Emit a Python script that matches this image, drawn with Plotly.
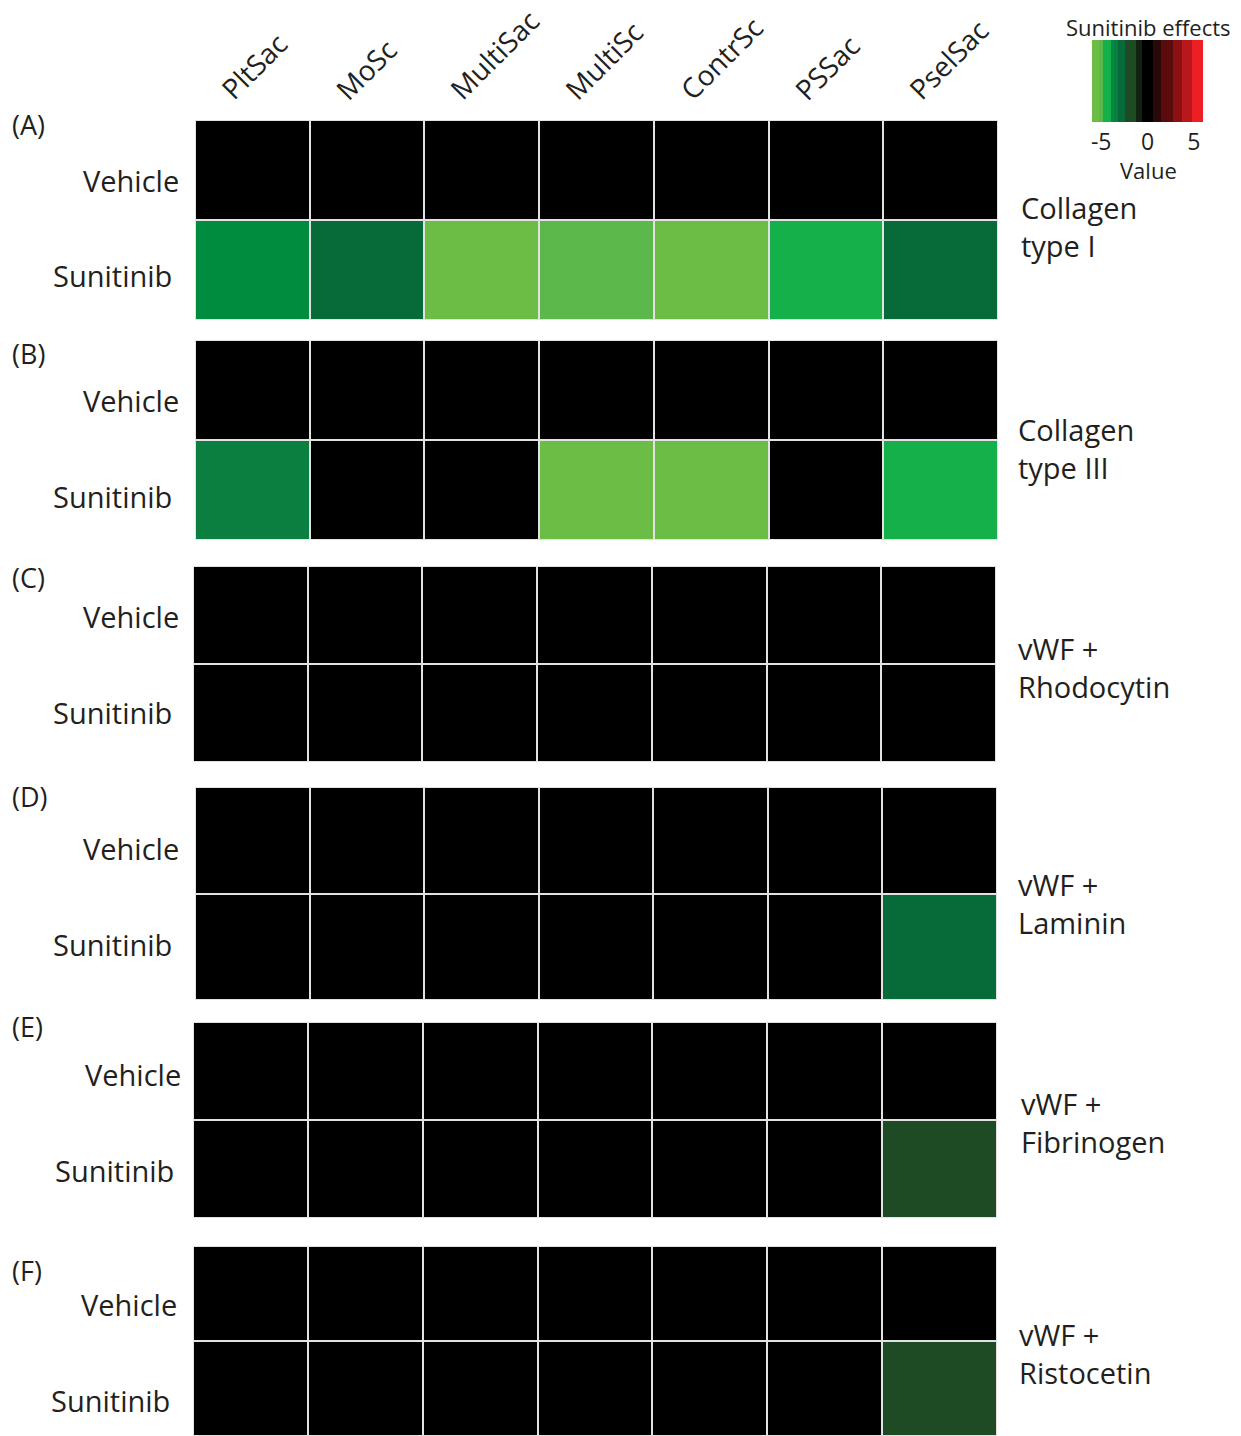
import plotly.graph_objects as go

# ---------------- data ----------------
columns = ["PltSac", "MoSc", "MultiSac", "MultiSc", "ContrSc", "PSSac", "PselSac"]
rows = ["Vehicle", "Sunitinib"]
panel_letters = ["(A)", "(B)", "(C)", "(D)", "(E)", "(F)"]
conditions = ["Collagen<br>type I", "Collagen<br>type III", "vWF +<br>Rhodocytin",
              "vWF +<br>Laminin", "vWF +<br>Fibrinogen", "vWF +<br>Ristocetin"]

vehicle_A = [0, 0, 0, 0, 0, 0, 0]
sunitinib_A = [-3.8, -2.8, -5.8, -5.0, -5.8, -4.4, -2.8]
vehicle_B = [0, 0, 0, 0, 0, 0, 0]
sunitinib_B = [-3.4, 0, 0, -5.8, -5.8, 0, -4.4]
vehicle_C = [0, 0, 0, 0, 0, 0, 0]
sunitinib_C = [0, 0, 0, 0, 0, 0, 0]
vehicle_D = [0, 0, 0, 0, 0, 0, 0]
sunitinib_D = [0, 0, 0, 0, 0, 0, -2.8]
vehicle_E = [0, 0, 0, 0, 0, 0, 0]
sunitinib_E = [0, 0, 0, 0, 0, 0, -1.8]
vehicle_F = [0, 0, 0, 0, 0, 0, 0]
sunitinib_F = [0, 0, 0, 0, 0, 0, -1.8]

colorbar_ticks = [-5, 0, 5]
colorbar_ticktext = ["-5", "0", "5"]
zmin, zmax = -6, 6

# ---------------- styling ----------------
W, H = 1241, 1436
FONT = "Open Sans"
TXT = "#231f20"

bands = [(-6, -5.2, '#6cbd45'), (-5.2, -4.8, '#5cb84a'), (-4.8, -4.0, '#16b04a'),
         (-4.0, -3.6, '#008c3f'), (-3.6, -3.2, '#0a7f3f'), (-3.2, -2.4, '#066b38'),
         (-2.4, -1.2, '#1e4a24'), (-1.2, -0.6, '#122212'), (-0.6, 0.6, '#000000'),
         (0.6, 1.5, '#2a0808'), (1.5, 2.8, '#5a0c0c'), (2.8, 3.7, '#8a1014'),
         (3.7, 4.8, '#b8181c'), (4.8, 6, '#ec2024')]
colorscale = []
for lo, hi, c in bands:
    colorscale.append([(lo - zmin) / (zmax - zmin), c])
    colorscale.append([(hi - zmin) / (zmax - zmin), c])

def px_x(p):
    return p / W

def px_y(p):
    return 1 - p / H

# panel pixel boxes: (left, right, top, bottom)
boxes = [(195, 998, 120, 320), (195, 998, 340, 540), (193, 996, 566, 762),
         (195, 997, 787, 1000), (193, 997, 1022, 1218), (193, 997, 1246, 1436)]
row_label_y = [(180, 275), (400, 496), (616, 712), (849, 945), (1074, 1170), (1304, 1400)]
row_label_x = [(181, 174), (181, 174), (181, 174), (181, 174), (183, 176), (179, 172)]
letter_y = [124, 353, 578, 797, 1026, 1270]
cond_pos = [(1019, 226), (1016, 449), (1016, 667), (1016, 903), (1019, 1122), (1017, 1353)]

panel_data = [(vehicle_A, sunitinib_A), (vehicle_B, sunitinib_B), (vehicle_C, sunitinib_C),
              (vehicle_D, sunitinib_D), (vehicle_E, sunitinib_E), (vehicle_F, sunitinib_F)]

fig = go.Figure()
layout = dict(width=W, height=H, autosize=False, margin=dict(l=0, r=0, t=0, b=0),
              paper_bgcolor="white", plot_bgcolor="#e2e2e2", showlegend=False,
              font=dict(family=FONT, color=TXT))
annotations = []

for i, (veh, sun) in enumerate(panel_data):
    sfx = "" if i == 0 else str(i + 1)
    fig.add_trace(go.Heatmap(
        z=[veh, sun], x=list(range(len(columns))), y=rows,
        coloraxis="coloraxis", xgap=2, ygap=2,
        xaxis="x" + sfx, yaxis="y" + sfx,
        hovertemplate="%{y} / " + "%{x}: %{z}<extra></extra>"))
    l, r, t, b = boxes[i]
    layout["xaxis" + sfx] = dict(domain=[px_x(l), px_x(r)], range=[-0.5, len(columns) - 0.5],
                                 showticklabels=False, showgrid=False, zeroline=False,
                                 anchor="y" + sfx, fixedrange=True)
    layout["yaxis" + sfx] = dict(domain=[px_y(b), px_y(t)], autorange="reversed",
                                 showticklabels=False, showgrid=False, zeroline=False,
                                 anchor="x" + sfx, fixedrange=True, type="category")
    # row labels
    for lab, yy, xx in zip(rows, row_label_y[i], row_label_x[i]):
        annotations.append(dict(text=lab, xref="paper", yref="paper", x=px_x(xx), y=px_y(yy),
                                xanchor="right", yanchor="middle", showarrow=False,
                                font=dict(size=29, family=FONT, color=TXT)))
    annotations.append(dict(text=panel_letters[i], xref="paper", yref="paper", x=px_x(10),
                            y=px_y(letter_y[i]), xanchor="left", yanchor="middle", showarrow=False,
                            font=dict(size=27, family=FONT, color=TXT)))
    cx, cy = cond_pos[i]
    annotations.append(dict(text=conditions[i], xref="paper", yref="paper", x=px_x(cx), y=px_y(cy),
                            xanchor="left", yanchor="middle", align="left", showarrow=False,
                            font=dict(size=29, family=FONT, color=TXT)))

# column labels (rotated)
for j, c in enumerate(columns):
    annotations.append(dict(text=c, xref="x", yref="paper", x=j - 0.37, y=px_y(110),
                            xanchor="left", yanchor="bottom", textangle=-45, showarrow=False,
                            font=dict(size=28, family=FONT, color=TXT)))

# colorbar titles
annotations.append(dict(text="Sunitinib effects", xref="paper", yref="paper", x=px_x(1148), y=px_y(27),
                        xanchor="center", yanchor="middle", showarrow=False,
                        font=dict(size=22, family=FONT, color=TXT)))
annotations.append(dict(text="Value", xref="paper", yref="paper", x=px_x(1148), y=px_y(170),
                        xanchor="center", yanchor="middle", showarrow=False,
                        font=dict(size=22, family=FONT, color=TXT)))

layout["coloraxis"] = dict(
    colorscale=colorscale, cmin=zmin, cmax=zmax,
    colorbar=dict(orientation="h", x=px_x(1147.5), xanchor="center", y=px_y(40), yanchor="top",
                  len=111, lenmode="pixels", thickness=82, thicknessmode="pixels",
                  outlinewidth=0, tickvals=colorbar_ticks, ticktext=colorbar_ticktext,
                  ticks="", xpad=0, ypad=0,
                  tickfont=dict(size=23, family=FONT, color=TXT)))
layout["annotations"] = annotations
fig.update_layout(**layout)
fig.write_html("out.html")
